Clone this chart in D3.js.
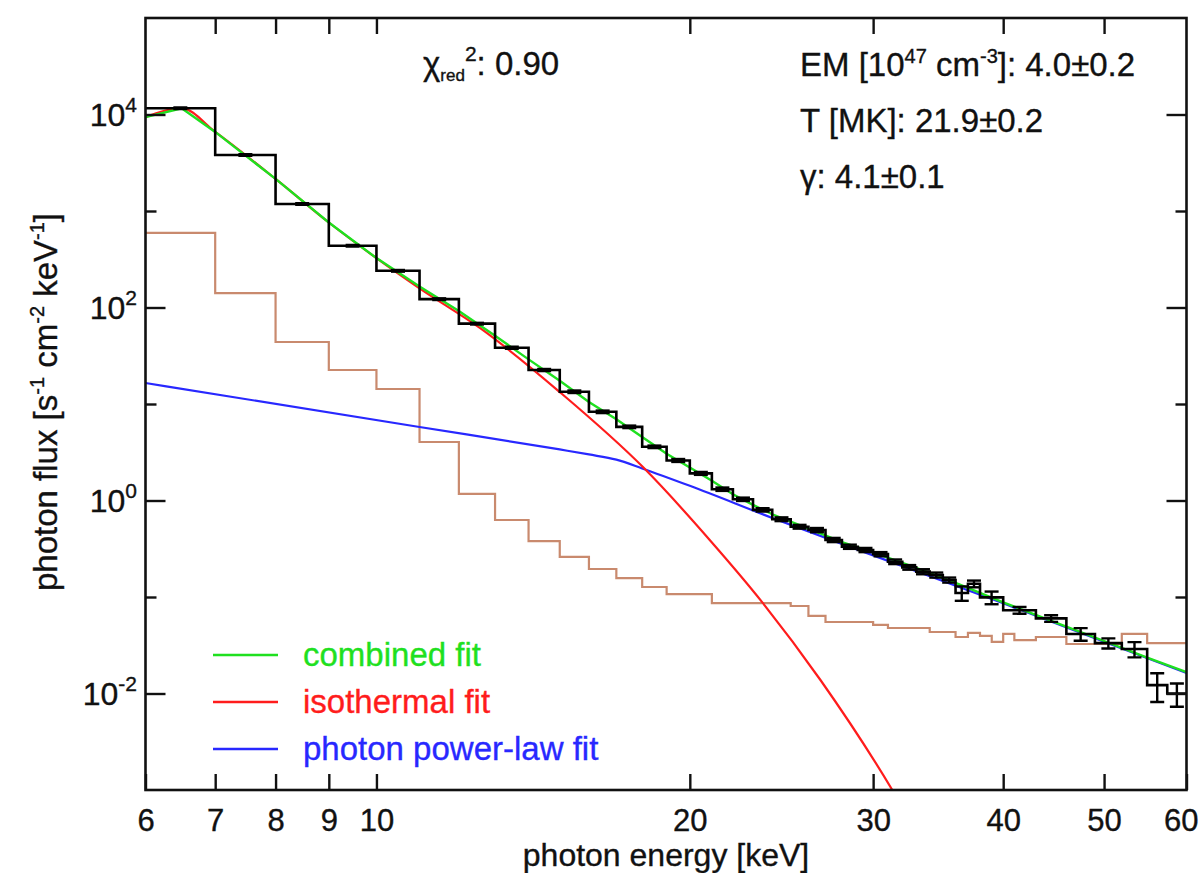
<!DOCTYPE html>
<html>
<head>
<meta charset="utf-8">
<script src="https://cdn.jsdelivr.net/npm/d3@7"></script>
<style>
  body { margin: 0; background: #fff; }
  svg text { font-family: "Liberation Sans", Arial, Helvetica, sans-serif; fill: #111; stroke: #111; stroke-width: 0.35px; }
</style>
</head>
<body>
<svg id="chart" width="1199" height="873"></svg>
<script>
// measured spectrum (black histogram), keV bin edges and photon flux
const dataEdges = [6,7,8,9,10,11,12,13,14,15,16,17,18,19,20,21,22,23,24,25,26,27,28,29,30,
  31,32,33,34,35,36,37,38,40,43,46,49,52,55,57.5,60];
const dataFlux = [11600,3800,1180,437,240,122,68,38.3,22.5,13.4,8.3,5.8,3.6,2.6,1.91,1.31,1.03,0.80,0.64,
  0.535,0.494,0.39,0.332,0.307,0.278,0.232,0.203,0.183,0.169,0.150,0.110,0.137,0.099,0.073,0.060,
  0.0414,0.0333,0.0289,0.0122,0.0100];
// relative errors per bin
const dataErr = [0.02,0.02,0.02,0.02,0.02,0.02,0.02,0.025,0.025,0.03,0.03,0.03,0.03,0.035,0.035,0.04,0.04,0.04,0.045,
  0.045,0.05,0.05,0.05,0.05,0.05,0.055,0.055,0.06,0.06,0.06,0.17,0.08,0.15,0.08,0.08,
  0.15,0.12,0.18,0.33,0.27];

// background (brown histogram)
const bgEdges = [6,7,8,9,10,11,12,13,14,15,16,17,18,19,20,21,22,23,24,25,26,27,28,29,30,
  31,32,33,34,35,36,37,38,39,40,41,43,46,52,55,60];
const bgFlux = [592,141,43.9,22.5,14.3,4.04,1.17,0.628,0.380,0.260,0.195,0.157,0.127,0.107,0.107,
  0.0866,0.0866,0.0866,0.0866,0.0807,0.0636,0.0551,0.0551,0.0551,0.0513,0.0477,0.0477,0.0477,
  0.0434,0.0434,0.0385,0.0424,0.0395,0.0342,0.0414,0.0357,0.0385,0.0326,0.0414,0.0333];

// fit curves: energy [keV] and flux
const combinedE = [6,6.5,7,8,9,10,11,12,13,14,15,16,17,18,19,20,21,22,23,24,26,28,30,33,36,40,45,50,55,60];
const combinedF = [9400,11600,6600,2150,760,325,165,92,51,29,17.4,10.5,6.95,4.55,3.05,2.2,1.6,1.16,0.9,0.72,
  0.51,0.37,0.29,0.2,0.14,0.088,0.054,0.035,0.0235,0.0167];
const thermalE = [6,6.5,7,8,9,10,11,12.58,15,18.03,20.9,23.5,26.7,31.3,32.5];
const thermalF = [9400,11600,6600,2150,760,325,158,61,13.3,2.22,0.39,0.087,0.0138,0.001,0.0005];
const powerE = [6,11,15,16,17,18,20,24,30,40,50,60];
const powerF = [16.5,5.78,3.38,3.0,2.65,2.15,1.42,0.66,0.27,0.086,0.0344,0.0163];

const energyTicks = [6,7,8,9,10,20,30,40,50,60];
const fluxMajorExp = [-2,0,2,4];
const fluxMinorExp = [-1,1,3];

const legendItems = [
  {label: "combined fit", color: "#1fe01f"},
  {label: "isothermal fit", color: "#ff1c1c"},
  {label: "photon power-law fit", color: "#2828ff"}
];

const svg = d3.select("#chart");
const pL = 145.5, pR = 1186.5, pT = 18, pB = 790;

const x = d3.scaleLog().domain([6, 60]).range([pL, pR]);
const y = d3.scaleLog().domain([1e-3, 1e5]).range([pB, pT]);

svg.append("defs").append("clipPath").attr("id", "plotclip")
  .append("rect").attr("x", pL).attr("y", pT).attr("width", pR - pL).attr("height", pB - pT);

const plot = svg.append("g").attr("clip-path", "url(#plotclip)");

function stepPoints(edges, vals) {
  const pts = vals.map((v, i) => [edges[i], v]);
  pts.push([edges[edges.length - 1], vals[vals.length - 1]]);
  return pts;
}
const stepLine = d3.line().x(d => x(d[0])).y(d => y(d[1])).curve(d3.curveStepAfter);
const smooth = d3.line().x(d => x(d[0])).y(d => y(d[1])).curve(d3.curveMonotoneX);
const straight = d3.line().x(d => x(d[0])).y(d => y(d[1]));

// background histogram
plot.append("path").attr("d", stepLine(stepPoints(bgEdges, bgFlux)))
  .attr("fill", "none").attr("stroke", "#c98a6e").attr("stroke-width", 2.2);

// fits
plot.append("path").attr("d", smooth(powerE.map((e, i) => [e, powerF[i]])))
  .attr("fill", "none").attr("stroke", "#2828ff").attr("stroke-width", 2.2);
plot.append("path").attr("d", smooth(thermalE.map((e, i) => [e, thermalF[i]])))
  .attr("fill", "none").attr("stroke", "#ff1c1c").attr("stroke-width", 2.2);
plot.append("path").attr("d", straight(combinedE.map((e, i) => [e, combinedF[i]])))
  .attr("fill", "none").attr("stroke", "#1fe01f").attr("stroke-width", 2.4);

// data histogram + error bars
plot.append("path").attr("d", stepLine(stepPoints(dataEdges, dataFlux)))
  .attr("fill", "none").attr("stroke", "#000").attr("stroke-width", 2.6);

const errs = plot.append("g").attr("stroke", "#000").attr("stroke-width", 2.4);
dataFlux.forEach((v, i) => {
  const xc = x(Math.sqrt(dataEdges[i] * dataEdges[i + 1]));
  const y0 = y(v * (1 - dataErr[i])), y1 = y(v * (1 + dataErr[i]));
  errs.append("line").attr("x1", xc).attr("x2", xc).attr("y1", y0).attr("y2", y1);
  errs.append("line").attr("x1", xc - 7).attr("x2", xc + 7).attr("y1", y0).attr("y2", y0);
  errs.append("line").attr("x1", xc - 7).attr("x2", xc + 7).attr("y1", y1).attr("y2", y1);
});

// axes
const tickStroke = g => g.selectAll(".tick line").attr("stroke", "#111").attr("stroke-width", 2.4);

svg.append("g").attr("transform", `translate(0,${pB})`)
  .call(d3.axisBottom(x).tickValues(energyTicks).tickSize(-16).tickPadding(19).tickFormat(d => d))
  .call(g => g.select(".domain").remove())
  .call(tickStroke)
  .call(g => g.attr("font-family", null).attr("font-size", null))
  .call(g => g.selectAll("text").style("font-size", "31px"))
  // last label sits on the right edge of the picture: keep it inside
  .call(g => g.selectAll(".tick").filter(d => d === 60).select("text")
    .attr("text-anchor", "end").attr("x", 1198 - pR));

svg.append("g").attr("transform", `translate(0,${pT})`)
  .call(d3.axisTop(x).tickValues(energyTicks.slice(1, -1)).tickSize(-16).tickFormat(""))
  .call(g => g.select(".domain").remove())
  .call(tickStroke);

const majorVals = fluxMajorExp.map(e => Math.pow(10, e));
const minorVals = fluxMinorExp.map(e => Math.pow(10, e));
[[d3.axisLeft, pL], [d3.axisRight, pR]].forEach(([ax, pos]) => {
  svg.append("g").attr("transform", `translate(${pos},0)`)
    .call(ax(y).tickValues(majorVals).tickSize(-20).tickFormat(""))
    .call(g => g.select(".domain").remove()).call(tickStroke);
  svg.append("g").attr("transform", `translate(${pos},0)`)
    .call(ax(y).tickValues(minorVals).tickSize(-11).tickFormat(""))
    .call(g => g.select(".domain").remove()).call(tickStroke);
});

// frame
svg.append("rect").attr("x", pL).attr("y", pT).attr("width", pR - pL).attr("height", pB - pT)
  .attr("fill", "none").attr("stroke", "#111").attr("stroke-width", 2.6);

// rich text helper: parts = [text, size, baseline shift]
function rich(g, xPos, yPos, parts, base) {
  const t = g.append("text").attr("x", xPos).attr("y", yPos).style("font-size", base + "px");
  let cur = 0;
  parts.forEach(p => {
    const shift = p[2] || 0;
    t.append("tspan").attr("dy", shift - cur).style("font-size", (p[1] || base) + "px").text(p[0]);
    cur = shift;
  });
  return t;
}

// y tick labels
fluxMajorExp.forEach(e => {
  rich(svg, 137, y(Math.pow(10, e)) + 11, [["10"], [String(e), 21, -14]], 32).attr("text-anchor", "end");
});

// axis titles
svg.append("text").attr("x", 666).attr("y", 866).attr("text-anchor", "middle")
  .style("font-size", "32px").text("photon energy [keV]");

const yt = svg.append("g").attr("transform", "translate(57,402) rotate(-90)");
rich(yt, 0, 0, [["photon flux [s"], ["-1", 20, -13], [" cm"], ["-2", 20, -13], [" keV"], ["-1", 20, -13], ["]"]], 33)
  .attr("text-anchor", "middle");

// annotations
rich(svg, 423, 75, [["\u03c7"], ["red", 17, 6], ["2", 21, -14], [": 0.90"]], 33);
rich(svg, 800, 76, [["EM [10"], ["47", 20, -13], [" cm"], ["-3", 20, -13], ["]: 4.0\u00b10.2"]], 33);
rich(svg, 800, 132, [["T [MK]: 21.9\u00b10.2"]], 33);
rich(svg, 800, 188, [["\u03b3: 4.1\u00b10.1"]], 33);

// legend
const legend = svg.append("g");
legendItems.forEach((d, i) => {
  const ly = 655 + i * 47;
  legend.append("line").attr("x1", 213).attr("x2", 278).attr("y1", ly).attr("y2", ly)
    .attr("stroke", d.color).attr("stroke-width", 2.4);
  legend.append("text").attr("x", 303).attr("y", ly + 11).style("font-size", "33px")
    .style("fill", d.color).style("stroke", d.color).text(d.label);
});
</script>
</body>
</html>
